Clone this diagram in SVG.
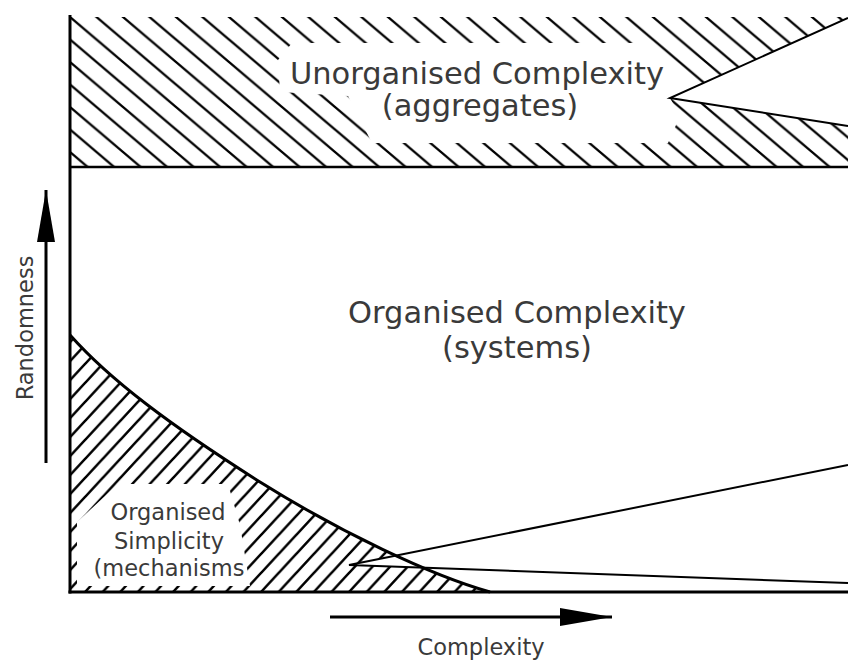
<svg xmlns="http://www.w3.org/2000/svg" width="848" height="660" viewBox="0 0 848 660">
<style>
.lbl{font-family:"DejaVu Sans","Liberation Sans",sans-serif;fill:#3a3a3a;text-anchor:middle}
.big{font-size:30.5px}
.mid{font-size:22.5px}
.ax{stroke:#000;stroke-width:3;fill:none}
.call{fill:#fff;stroke:#000;stroke-width:2;stroke-linejoin:miter}
</style>
<defs>
<pattern id="hatchBack" patternUnits="userSpaceOnUse" x="70" y="17" width="26.5" height="22.5">
<path d="M-26.5,-22.5 L53,45 M0,-22.5 L53,22.5 M-26.5,0 L26.5,45" stroke="#000" stroke-width="2.3"/>
</pattern>
<pattern id="hatchFwd" patternUnits="userSpaceOnUse" x="85" y="573" width="17.6" height="19">
<path d="M-17.6,38 L35.2,-19 M-17.6,19 L17.6,-19 M0,38 L35.2,0" stroke="#000" stroke-width="2.5"/>
</pattern>
<marker id="arrowHead" markerUnits="userSpaceOnUse" markerWidth="60" markerHeight="24" refX="52" refY="9" orient="auto">
<path d="M0,0 L52,9 L0,18 Z" fill="#000"/>
</marker>
</defs>
<rect width="848" height="660" fill="#fff"/>

<g id="unorganised-complexity">
<rect x="70" y="17" width="778" height="150" fill="url(#hatchBack)"/>
<path d="M292,43 L648,43 L700,86 L670,98 L680,116 L668,143 L372,143 L348,96 L280,92 L278,60 Z" fill="#fff"/>
<text class="lbl big" x="477" y="84">Unorganised Complexity</text>
<text class="lbl big" x="480" y="116">(aggregates)</text>
<polyline class="call" points="848,18 670,98 848,126"/>
</g>

<g id="organised-complexity">
<text class="lbl big" x="517" y="323">Organised Complexity</text>
<text class="lbl big" x="517" y="358">(systems)</text>
</g>

<g id="organised-simplicity">
<path d="M70,335 C110,380 170,425 260,482 C340,532 430,575 490,592 L70,592 Z" fill="url(#hatchFwd)"/>
<path d="M77,586 L77,522 L118,484 L228,484 L240,525 L250,586 Z" fill="#fff"/>
<text class="lbl mid" x="168" y="520">Organised</text>
<text class="lbl mid" x="169" y="549">Simplicity</text>
<text class="lbl mid" x="169" y="576">(mechanisms</text>
<polyline class="call" points="848,465 349,565 848,583"/>
<path class="ax" d="M70,335 C110,380 170,425 260,482 C340,532 430,575 490,592"/>
</g>

<g id="axes">
<line class="ax" x1="70" y1="15" x2="70" y2="593.5"/>
<line class="ax" x1="68.5" y1="592" x2="848" y2="592"/>
<line x1="70" y1="167" x2="848" y2="167" stroke="#000" stroke-width="2.6"/>
</g>

<g id="connectors">
<line x1="46" y1="463" x2="46" y2="190" stroke="#000" stroke-width="3" marker-end="url(#arrowHead)"/>
<line x1="330" y1="617" x2="612" y2="617" stroke="#000" stroke-width="3" marker-end="url(#arrowHead)"/>
</g>

<g id="axis-labels">
<text class="lbl mid" transform="translate(33,328) rotate(-90)" x="0" y="0">Randomness</text>
<text class="lbl mid" x="481" y="655">Complexity</text>
</g>
</svg>
